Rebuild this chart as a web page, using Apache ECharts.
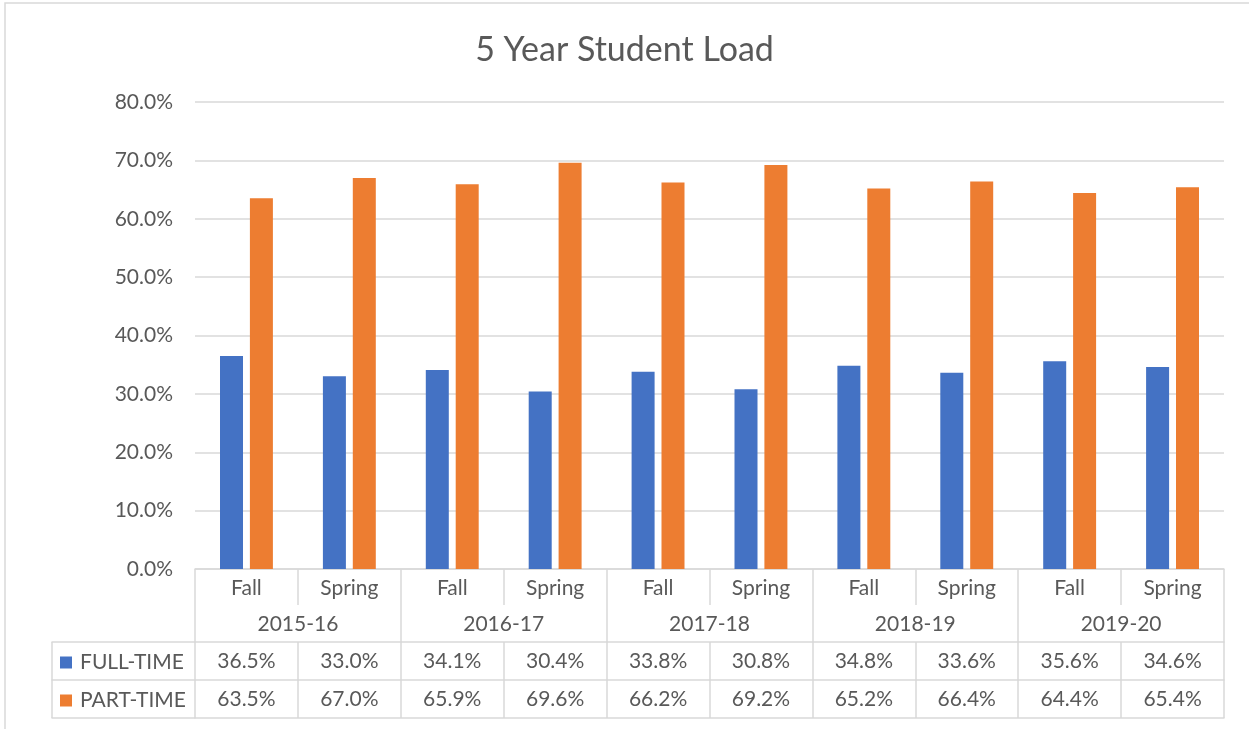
<!DOCTYPE html>
<html>
<head>
<meta charset="utf-8">
<script src="https://cdn.jsdelivr.net/npm/echarts@6/dist/echarts.min.js"></script>
<style>html,body{margin:0;padding:0;background:#fff;}#c{width:1249px;height:729px;}</style>
</head>
<body>
<div id="c"></div>
<script>
const terms = ['Fall','Spring','Fall','Spring','Fall','Spring','Fall','Spring','Fall','Spring'];
const years = ['2015-16','2016-17','2017-18','2018-19','2019-20'];
const fullTime = [36.5,33.0,34.1,30.4,33.8,30.8,34.8,33.6,35.6,34.6];
const partTime = [63.5,67.0,65.9,69.6,66.2,69.2,65.2,66.4,64.4,65.4];
const yTicks = [0,10,20,30,40,50,60,70,80];
const seriesNames = ['FULL-TIME','PART-TIME'];

const FONT = 'Lato';
const TXT = '#595959';
const LINE = '#d9d9d9';
const FS = 21;
const fmt = v => Number(v).toFixed(1) + '%';

const chart = echarts.init(document.getElementById('c'), null, {renderer:'canvas'});
const lineAx = (offset, tickLen, showLabel, data, margin, gridIndex, showLine) => ({
  type:'category', gridIndex: gridIndex||0, position:'bottom', offset: offset, data: data,
  axisLine:{show: showLine !== false, onZero:false, lineStyle:{color:LINE, width:1.5}},
  axisTick:{show: tickLen>0, length: tickLen, interval:0, lineStyle:{color:LINE, width:1.5}},
  axisLabel:{show: showLabel, interval:0, margin: margin||9, fontFamily:FONT, fontSize:FS, color:TXT},
  splitLine:{show:false}
});

chart.setOption({
  animation:false,
  textStyle:{fontFamily:FONT},
  title:{text:'5 Year Student Load', left:'center', top:28,
    textStyle:{fontFamily:FONT, fontSize:34, fontWeight:'normal', color:TXT}},
  graphic:[{type:'rect', shape:{x:5, y:3, width:1400, height:900}, silent:true,
    style:{fill:'none', stroke:LINE, lineWidth:1.5}}],
  legend:{orient:'vertical', left:60, top:652, padding:0, itemWidth:12, itemHeight:12, itemGap:17,
    icon:'rect', data:seriesNames,
    textStyle:{fontFamily:FONT, fontSize:FS, color:TXT, padding:[0,0,0,3]}},
  grid:[
    {left:195, right:25, top:102, height:467, containLabel:false},
    {left:52, width:143, top:102, height:467, containLabel:false}
  ],
  xAxis:[
    lineAx(0, 36, true, terms, 9, 0, true),
    lineAx(0, 149, true, years, 45, 0, false),
    lineAx(73, 38, true, fullTime.map(fmt), 9, 0, true),
    lineAx(111, 38, true, partTime.map(fmt), 9, 0, true),
    lineAx(149, 0, false, terms, 9, 0, true),
    lineAx(73, 76, false, [''], 9, 1, true),
    lineAx(111, 0, false, [''], 9, 1, true),
    lineAx(149, 0, false, [''], 9, 1, true)
  ],
  yAxis:[
    {type:'value', gridIndex:0, min:yTicks[0], max:yTicks[yTicks.length-1], interval:10,
      axisLine:{show:false}, axisTick:{show:false},
      axisLabel:{formatter:fmt, fontFamily:FONT, fontSize:FS, color:TXT, margin:22},
      splitLine:{show:true, lineStyle:{color:LINE, width:1.5}}},
    {type:'value', gridIndex:1, show:false, min:0, max:1}
  ],
  series:[
    {name:seriesNames[0], type:'bar', xAxisIndex:0, yAxisIndex:0, data:fullTime,
      barWidth:23, barGap:'30%', itemStyle:{color:'#4472C4'}},
    {name:seriesNames[1], type:'bar', xAxisIndex:0, yAxisIndex:0, data:partTime,
      barWidth:23, barGap:'30%', itemStyle:{color:'#ED7D31'}}
  ]
});
</script>
</body>
</html>
